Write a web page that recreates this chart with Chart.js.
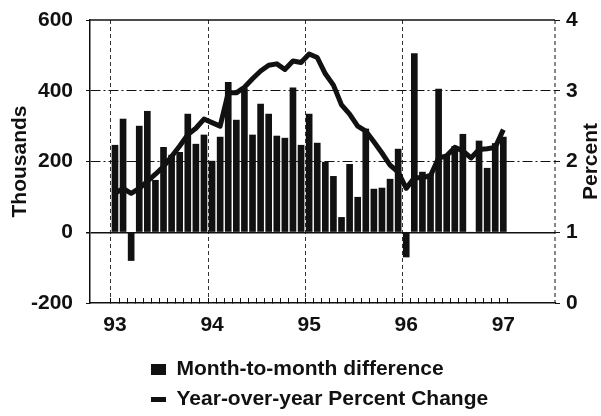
<!DOCTYPE html>
<html>
<head>
<meta charset="utf-8">
<script src="https://cdn.jsdelivr.net/npm/chart.js@4/dist/chart.umd.min.js"></script>
<style>
  body { margin: 0; background: #fff; }
</style>
</head>
<body>
<canvas id="jobs-chart" width="601" height="416"></canvas>
<script>
const yearLabels = ['93', '94', '95', '96', '97'];

// month-to-month change, thousands (Jan 93 .. Jan 97)
const monthlyDiff = [
    246, 320, -80, 300, 342, 147, 240, 218, 226, 334, 249, 275,
    201, 269, 424, 317, 406, 275, 362, 334, 272, 266, 408, 246,
    334, 252, 198, 158, 42, 192, 99, 292, 122, 125, 150, 235,
    -70, 505, 170, 165, 405, 218, 243, 277, 0, 258, 181, 251,
    269
];

// year-over-year percent change, same months
const yearPct = [
    1.55, 1.62, 1.55, 1.62, 1.72, 1.82, 1.93, 2.07, 2.22, 2.38, 2.47, 2.6,
    2.55, 2.5, 2.97, 2.97, 3.05, 3.17, 3.28, 3.36, 3.38, 3.3, 3.42, 3.4,
    3.52, 3.47, 3.24, 3.08, 2.8, 2.67, 2.5, 2.43, 2.28, 2.12, 1.95, 1.85,
    1.62, 1.77, 1.77, 1.8, 2.05, 2.08, 2.2, 2.15, 2.05, 2.17, 2.18, 2.2,
    2.45
];

const ink = '#111';
const fontFamily = "'Liberation Sans', Arial, sans-serif";
const legendStyles = ['rect', 'line'];

Chart.defaults.font.family = fontFamily;
Chart.defaults.font.size = 21;
Chart.defaults.font.weight = 'bold';
Chart.defaults.color = ink;

const toPoints = values => values.map((y, x) => ({x, y}));
const tickValue = ctx => (ctx.tick ? ctx.tick.value : null);

// fixed axis width, and no extra room reserved for the end labels
const fixWidth = width => scale => {
    scale.width = width;
    scale.paddingTop = 0;
    scale.paddingBottom = 0;
};

// top edge, dashed right edge and the right-hand axis title
const frame = {
    id: 'frame',
    afterLayout(chart) {
        chart.legend.left = 142;
        chart.legend.top += 4;
    },
    afterDraw(chart) {
        const {ctx, chartArea: {left, right, top, bottom}} = chart;
        ctx.save();
        ctx.strokeStyle = ink;
        ctx.lineWidth = 1.5;
        ctx.beginPath();
        ctx.moveTo(left, top);
        ctx.lineTo(right, top);
        ctx.stroke();
        ctx.lineWidth = 1;
        ctx.setLineDash([4, 3]);
        ctx.beginPath();
        ctx.moveTo(right, top);
        ctx.lineTo(right, bottom);
        ctx.stroke();
        ctx.translate(591, (top + bottom) / 2);
        ctx.rotate(-Math.PI / 2);
        ctx.font = `bold 21px ${fontFamily}`;
        ctx.fillStyle = ink;
        ctx.textAlign = 'center';
        ctx.textBaseline = 'middle';
        ctx.fillText('Percent', 0, 0);
        ctx.restore();
    }
};

new Chart(document.querySelector('#jobs-chart'), {
    data: {
        datasets: [{
            type: 'bar',
            label: 'Month-to-month difference',
            data: toPoints(monthlyDiff),
            yAxisID: 'y',
            backgroundColor: ink,
            barThickness: 6
        }, {
            type: 'line',
            label: 'Year-over-year Percent Change',
            data: toPoints(yearPct),
            yAxisID: 'y1',
            borderColor: ink,
            backgroundColor: ink,
            borderWidth: 5,
            borderJoinStyle: 'round',
            pointRadius: 0,
            tension: 0
        }]
    },
    options: {
        responsive: false,
        animation: false,
        layout: {padding: {top: 20, left: 0, right: 0, bottom: 0}},
        plugins: {
            tooltip: {enabled: false},
            legend: {
                position: 'bottom',
                align: 'start',
                labels: {
                    usePointStyle: true,
                    pointStyleWidth: 15,
                    boxHeight: 11,
                    padding: 9,
                    generateLabels: chart => Chart.defaults.plugins.legend.labels.generateLabels(chart)
                        .map((item, i) => ({...item, pointStyle: legendStyles[i]}))
                }
            }
        },
        scales: {
            x: {
                type: 'linear',
                min: -2.5,
                max: 53.8,
                afterBuildTicks: scale => {
                    scale.ticks = monthlyDiff.map((_, i) => ({value: i}));
                },
                afterFit: scale => { scale.height = 43; },
                ticks: {
                    autoSkip: false,
                    maxRotation: 0,
                    padding: 15,
                    callback: value => (value % 12 === 0 ? yearLabels[value / 12] : '')
                },
                grid: {
                    color: ctx => {
                        const v = tickValue(ctx);
                        return v !== null && v % 12 === 0 && v < 48 ? '#333' : 'transparent';
                    },
                    lineWidth: 1,
                    tickColor: ink,
                    tickLength: -5
                },
                border: {color: ink, width: 1.5, dash: [4, 3]}
            },
            y: {
                position: 'left',
                min: -200,
                max: 600,
                afterFit: fixWidth(90),
                ticks: {stepSize: 200, padding: 13},
                title: {display: true, text: 'Thousands', padding: {top: 8, bottom: 0}},
                grid: {
                    color: ctx => {
                        const v = tickValue(ctx);
                        return v === 600 || v === -200 ? 'transparent' : ink;
                    },
                    lineWidth: ctx => (tickValue(ctx) === 0 ? 1.5 : 1),
                    tickColor: ink,
                    tickLength: 4
                },
                border: {
                    color: ink,
                    width: 1.5,
                    dash: ctx => (tickValue(ctx) === 0 ? [] : [10, 3, 2, 3])
                }
            },
            y1: {
                position: 'right',
                min: 0,
                max: 4,
                afterFit: fixWidth(46),
                ticks: {stepSize: 1, padding: 6},
                grid: {drawOnChartArea: false, tickColor: ink, tickLength: 5},
                border: {display: false}
            }
        }
    },
    plugins: [frame]
});
</script>
</body>
</html>
